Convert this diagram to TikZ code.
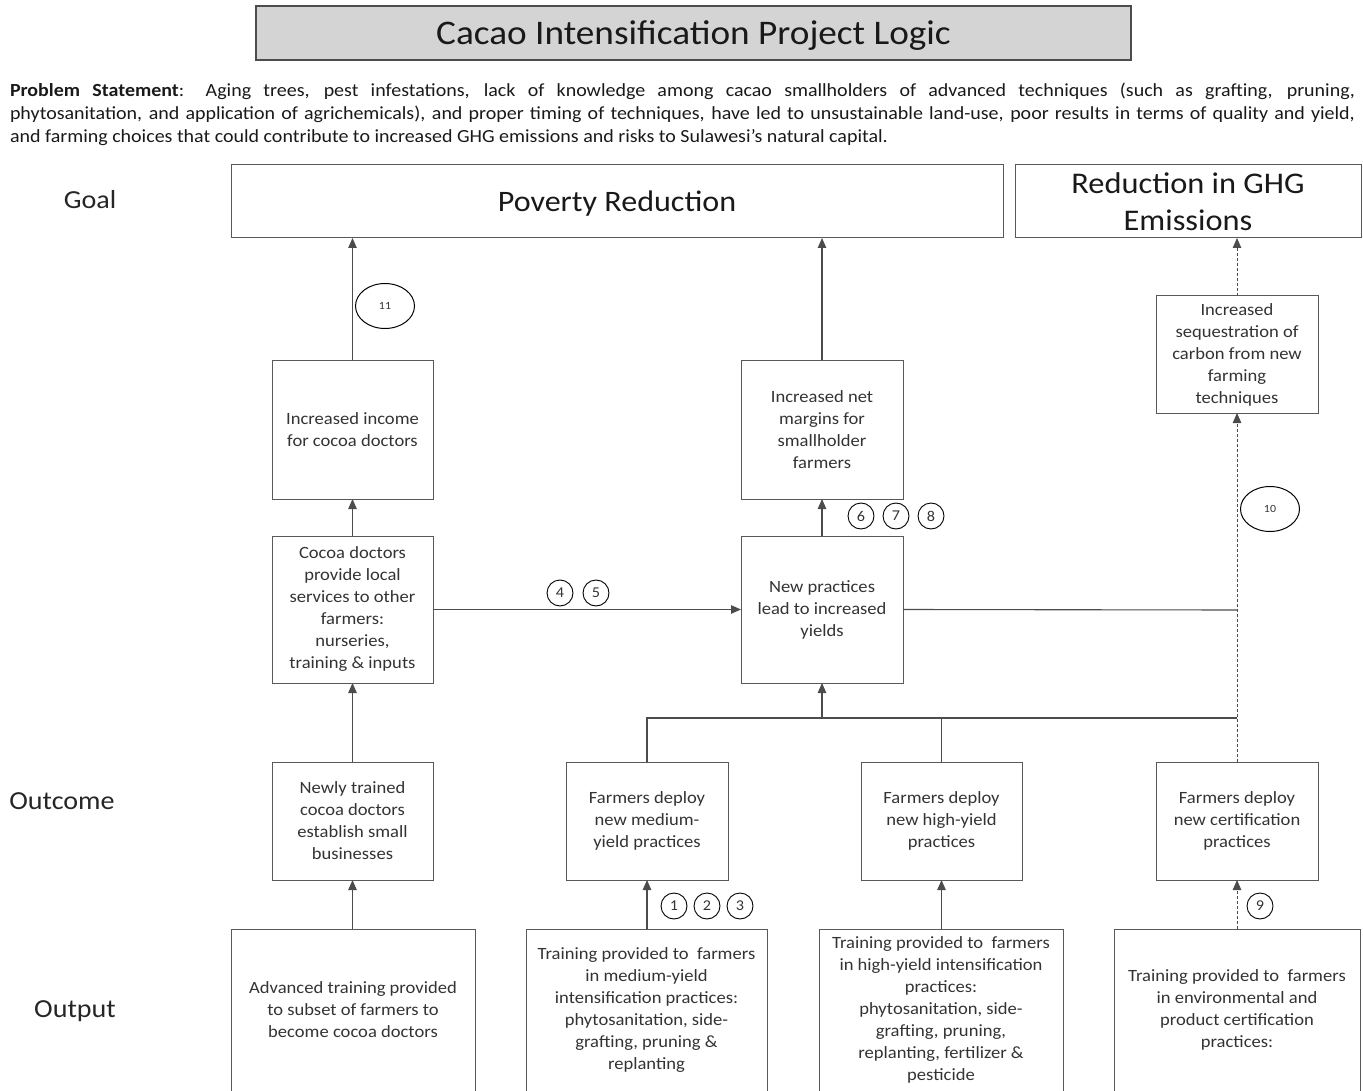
\documentclass[tikz,border=0pt]{standalone}
\usepackage{fontspec}
\setmainfont[FakeStretch=1.08]{Carlito}
\usetikzlibrary{arrows.meta,shapes.geometric}
\begin{document}
\begin{tikzpicture}[x=1pt,y=-1pt,
  every node/.style={inner sep=0pt, outer sep=0pt},
  box/.style={draw=black!65, line width=1pt, align=center, text=black!80, font=\fontsize{17.2}{22}\selectfont},
  conn/.style={draw=black!70, line width=1.1pt},
  arr/.style={conn, -{Triangle[length=10pt,width=8.5pt]}},
  dconn/.style={draw=black!70, line width=0.9pt, dash pattern=on 3pt off 2pt},
  darr/.style={dconn, -{Triangle[length=10pt,width=8.5pt]}},
  num/.style={circle, draw=black, line width=0.9pt, minimum size=26pt, font=\fontsize{15}{15}\selectfont, text=black!80},
  oval/.style={ellipse, draw=black, line width=1pt, minimum width=59pt, minimum height=45pt, font=\fontsize{11}{11}\selectfont, text=black!80},
  lab/.style={font=\fontsize{26}{26}\selectfont, text=black!85},
]
\useasboundingbox (0,0) rectangle (1363,1091);

% title
\node[draw=black!70, line width=1.2pt, fill=black!17, minimum width=875pt, minimum height=54pt, text depth=1pt,
      font=\fontsize{34.5}{34.5}\selectfont, text=black!90] (title) at (693.5,33) {Cacao Intensification Project Logic};

% problem statement
\node[anchor=north west, text width=1345pt, align=justify, font=\fontsize{18.5}{23}\selectfont, text=black!90] (prob) at (10,83)
{\textbf{Problem Statement}: Aging trees, pest infestations, lack of knowledge among cacao smallholders of advanced techniques (such as grafting, pruning,\linebreak
phytosanitation, and application of agrichemicals), and proper timing of techniques, have led to unsustainable land-use, poor results in terms of quality and yield,\linebreak
and farming choices that could contribute to increased GHG emissions and risks to Sulawesi’s natural capital.};

% row labels
\node[lab] (lgoal) at (90,200) {Goal};
\node[lab] (lout) at (62,801) {Outcome};
\node[lab] (loutp) at (75,1011) {Output};

% goals
\node[box, minimum width=772pt, minimum height=73pt, text depth=0pt, font=\fontsize{29.7}{30}\selectfont, text=black!90] (pov) at (617,201.5) {Poverty Reduction};
\node[box, minimum width=346pt, minimum height=73pt, font=\fontsize{30}{37}\selectfont, text=black!90] (ghg) at (1188,201.5) {Reduction in GHG\\Emissions};

% upper boxes
\node[box, minimum width=161pt, minimum height=139pt] (income) at (352.5,429.5) {Increased income\\for cocoa doctors};
\node[box, minimum width=162pt, minimum height=139pt] (netm) at (822,429.5) {Increased net\\margins for\\smallholder\\farmers};
\node[box, minimum width=162pt, minimum height=117pt] (seq) at (1237,354.5) {Increased\\sequestration of\\carbon from new\\farming\\techniques};
\node[box, minimum width=161pt, minimum height=147pt] (cocoa) at (352.5,609.5) {Cocoa doctors\\provide local\\services to other\\farmers:\\nurseries,\\training \& inputs};
\node[box, minimum width=162pt, minimum height=147pt] (newp) at (822,609.5) {New practices\\lead to increased\\yields};

% outcome boxes
\node[box, minimum width=161pt, minimum height=118pt] (newly) at (352.5,821) {Newly trained\\cocoa doctors\\establish small\\businesses};
\node[box, minimum width=162pt, minimum height=118pt] (med) at (647,821) {Farmers deploy\\new medium-\\yield practices};
\node[box, minimum width=161pt, minimum height=118pt] (high) at (941.5,821) {Farmers deploy\\new high-yield\\practices};
\node[box, minimum width=162pt, minimum height=118pt] (cert) at (1237,821) {Farmers deploy\\new certification\\practices};

% output boxes
\node[box, minimum width=244pt, minimum height=162pt] (advt) at (353,1010) {Advanced training provided\\to subset of farmers to\\become cocoa doctors};
\node[box, minimum width=241pt, minimum height=162pt] (medt) at (646.5,1010) {Training provided to\ \ farmers\\in medium-yield\\intensification practices:\\phytosanitation, side-\\grafting, pruning \&\\replanting};
\node[box, minimum width=244pt, minimum height=162pt] (hight) at (941,1010) {Training provided to\ \ farmers\\in high-yield intensification\\practices:\\phytosanitation, side-\\grafting, pruning,\\replanting, fertilizer \&\\pesticide};
\node[box, minimum width=246pt, minimum height=162pt] (certt) at (1237,1010) {Training provided to\ \ farmers\\in environmental and\\product certification\\practices:};

% junction coordinates
\coordinate (j1) at (1237,610);
\coordinate (j2) at (1237,718);

% connectors
\draw[arr] (income.north) -- (income.north |- pov.south);
\draw[arr] (netm.north) -- (netm.north |- pov.south);
\draw[darr] (seq.north) -- (seq.north |- ghg.south);
\draw[arr] (cocoa.north) -- (income.south);
\draw[arr] (newp.north) -- (netm.south);
\draw[arr] (cocoa.east) -- (newp.west);
\draw[conn] (newp.east) -- (j1);
\draw[conn] (med.north) -- (med.north |- j2) -- (j2);
\draw[conn] (high.north) -- (high.north |- j2);
\draw[arr] (newp.south |- j2) -- (newp.south);
\draw[darr] (cert.north) -- (seq.south);
\draw[arr] (newly.north) -- (cocoa.south);
\draw[arr] (newly.south |- advt.north) -- (newly.south);
\draw[arr] (med.south |- medt.north) -- (med.south);
\draw[arr] (high.south |- hight.north) -- (high.south);
\draw[darr] (certt.north) -- (cert.south);

% numbered markers
\node[oval] (n11) at (385,306) {11};
\node[oval] (n10) at (1270,509) {10};
\node[num] (n4) at (560,593) {4};
\node[num] (n5) at (596,593) {5};
\node[num] (n6) at (861,516) {6};
\node[num] (n7) at (896,516) {7};
\node[num] (n8) at (931,516) {8};
\node[num] (n1) at (674,906) {1};
\node[num] (n2) at (707,906) {2};
\node[num] (n3) at (740,906) {3};
\node[num] (n9) at (1260,906) {9};
\end{tikzpicture}
\end{document}
